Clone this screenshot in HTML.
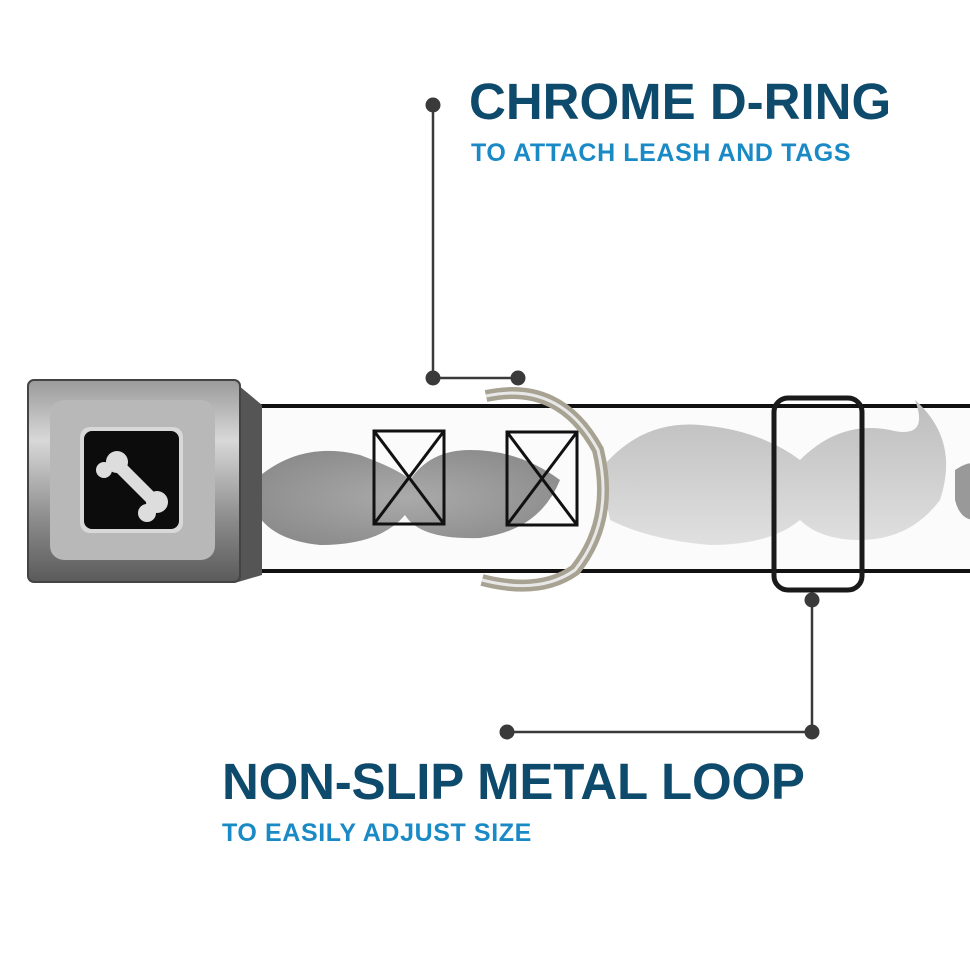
<!DOCTYPE html>
<html><head><style>
html,body{margin:0;padding:0;background:#fff;}
.w{position:relative;width:970px;height:971px;overflow:hidden;font-family:"Liberation Sans",sans-serif;}
.t{position:absolute;font-weight:bold;white-space:nowrap;}
</style></head><body><div class="w">
<svg width="970" height="971" style="position:absolute;left:0;top:0">
<defs>
<linearGradient id="bk" x1="0" y1="0" x2="0" y2="1"><stop offset="0" stop-color="#9a9a9a"/><stop offset="0.3" stop-color="#d8d8d8"/><stop offset="0.7" stop-color="#8a8a8a"/><stop offset="1" stop-color="#5a5a5a"/></linearGradient>
<radialGradient id="mg" cx="0.5" cy="0.5" r="0.6"><stop offset="0" stop-color="#aaa"/><stop offset="1" stop-color="#8a8a8a"/></radialGradient>
<linearGradient id="mg2" x1="0" y1="0" x2="0" y2="1"><stop offset="0" stop-color="#bdbdbd"/><stop offset="1" stop-color="#e0e0e0"/></linearGradient>
</defs>
<rect x="240" y="405" width="730" height="168" fill="#fbfbfb"/>
<rect x="240" y="404" width="730" height="4" fill="#111"/>
<rect x="240" y="569" width="730" height="4" fill="#111"/>
<path d="M255 480 Q300 440 360 455 Q400 470 410 480 Q430 450 470 450 Q520 450 560 480 Q540 530 480 538 Q420 540 405 515 Q380 545 320 545 Q270 540 255 510 Z" fill="url(#mg)"/>
<path d="M600 470 Q640 420 700 425 Q760 430 800 460 Q840 420 890 430 Q930 440 915 400 Q960 440 940 500 Q910 540 860 540 Q820 540 800 520 Q770 545 710 545 Q650 540 610 520 Z" fill="url(#mg2)"/>
<path d="M955 470 Q970 460 975 465 L975 520 Q960 520 955 500 Z" fill="#999"/>
<g fill="none" stroke="#111" stroke-width="3">
<rect x="374" y="431" width="70" height="93"/><path d="M374 431 L444 524 M444 431 L374 524"/>
<rect x="507" y="432" width="70" height="93"/><path d="M507 432 L577 525 M577 432 L507 525"/>
</g>
<path d="M238 385 L262 405 L262 575 L238 582 Z" fill="#555"/>
<rect x="28" y="380" width="212" height="202" rx="6" fill="url(#bk)" stroke="#444" stroke-width="2"/>
<rect x="50" y="400" width="165" height="160" rx="14" fill="#b8b8b8"/>
<rect x="80" y="427" width="103" height="106" rx="10" fill="#d8d8d8"/>
<rect x="84" y="431" width="95" height="98" rx="8" fill="#0c0c0c"/>
<g fill="#ddd"><circle cx="117" cy="462" r="11"/><circle cx="104" cy="470" r="8"/><circle cx="157" cy="502" r="11"/><circle cx="147" cy="513" r="9"/><path d="M112 468 L120 458 L159 497 L150 506 Z"/></g>
<path d="M486 396 Q560 380 598 450 Q615 520 575 570 Q540 595 482 580" fill="none" stroke="#a8a293" stroke-width="12"/>
<path d="M486 396 Q560 380 598 450 Q615 520 575 570 Q540 595 482 580" fill="none" stroke="#e8e8e8" stroke-width="3"/>
<rect x="774" y="398" width="88" height="192" rx="14" fill="none" stroke="#1a1a1a" stroke-width="5"/>
<g stroke="#3a3a3a" stroke-width="2.5" fill="none"><path d="M433 105 L433 378 L518 378"/><path d="M812 600 L812 732 L507 732"/></g>
<g fill="#3a3a3a"><circle cx="433" cy="105" r="7.5"/><circle cx="433" cy="378" r="7.5"/><circle cx="518" cy="378" r="7.5"/><circle cx="812" cy="600" r="7.5"/><circle cx="812" cy="732" r="7.5"/><circle cx="507" cy="732" r="7.5"/></g>
</svg>
<div class="t" style="left:469px;top:72px;font-size:51px;color:#0d4a6b">CHROME D-RING</div>
<div class="t" style="left:471px;top:139px;font-size:25px;color:#1a8ac6;letter-spacing:0.6px">TO ATTACH LEASH AND TAGS</div>
<div class="t" style="left:222px;top:752px;font-size:51px;color:#0d4a6b;letter-spacing:-0.2px">NON-SLIP METAL LOOP</div>
<div class="t" style="left:222px;top:819px;font-size:25px;color:#1a8ac6;letter-spacing:0.6px">TO EASILY ADJUST SIZE</div>
</div></body></html>
